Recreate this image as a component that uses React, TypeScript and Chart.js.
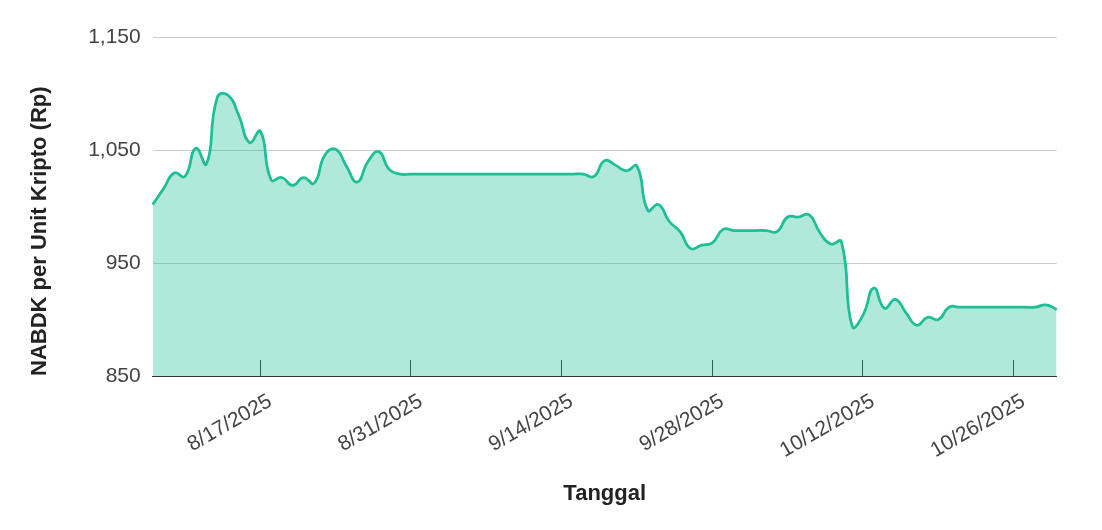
import { useEffect, useRef } from "react";
import { Chart, registerables } from "chart.js";

Chart.register(...registerables);

// Daily NAV values, 8/7/2025 .. 10/30/2025
const navValues: number[] = [
  1002, 1016, 1030, 1027, 1052, 1038, 1097, 1099, 1081, 1057,
  1067, 1024, 1026, 1019, 1026, 1021, 1046, 1051, 1036, 1022,
  1040, 1049, 1033, 1029, 1029, 1029, 1029, 1029, 1029, 1029,
  1029, 1029, 1029, 1029, 1029, 1029, 1029, 1029, 1029, 1029,
  1029, 1027, 1041, 1037, 1032, 1036, 997, 1002, 987, 978,
  963, 966, 968, 980, 979, 979, 979, 979, 978, 991,
  991, 993, 977, 967, 969, 894, 904, 928, 910, 918,
  906, 895, 902, 900, 911, 911, 911, 911, 911, 911,
  911, 911, 911, 913, 909,
];

const startYear = 2025;
const startMonthIndex = 7; // August
const startDay = 7;

const dateLabels: string[] = navValues.map((_, i) => {
  const d = new Date(startYear, startMonthIndex, startDay + i);
  return `${d.getMonth() + 1}/${d.getDate()}/${d.getFullYear()}`;
});

const xTickLabels: string[] = [
  "8/17/2025",
  "8/31/2025",
  "9/14/2025",
  "9/28/2025",
  "10/12/2025",
  "10/26/2025",
];

const yMin = 850;
const yMax = 1150;
const yStep = 100;

const xTitle = "Tanggal";
const yTitle = "NABDK per Unit Kripto (Rp)";

const FONT = '"Liberation Sans", Arial, Helvetica, sans-serif';
const LINE = "rgb(30,190,150)";
const FILL = "rgba(30,190,150,0.35)";

export default function App() {
  const ref = useRef<HTMLCanvasElement | null>(null);

  useEffect(() => {
    if (!ref.current) return;
    const chart = new Chart(ref.current, {
      type: "line",
      data: {
        labels: dateLabels,
        datasets: [
          {
            data: navValues,
            borderColor: LINE,
            backgroundColor: FILL,
            borderWidth: 2.75,
            fill: "start",
            tension: 0.5,
            pointRadius: 0,
            pointHoverRadius: 0,
          },
        ],
      },
      options: {
        responsive: false,
        animation: false,
        events: [],
        layout: { padding: { top: 37.7, right: 45.3, bottom: 0, left: 0 } },
        plugins: {
          legend: { display: false },
          tooltip: { enabled: false },
        },
        scales: {
          x: {
            type: "category",
            offset: false,
            grid: {
              display: true,
              drawOnChartArea: false,
              drawTicks: true,
              tickLength: -16,
              tickColor: "#333",
              tickWidth: 1,
            },
            border: { display: true, color: "#333", width: 1 },
            ticks: {
              autoSkip: false,
              minRotation: 30,
              maxRotation: 30,
              labelOffset: 9.9,
              padding: 28.9,
              color: "#444",
              font: { family: FONT, size: 21 },
            },
            afterBuildTicks: (scale: any) => {
              scale.ticks = scale.ticks.filter((t: any) =>
                xTickLabels.includes(dateLabels[t.value])
              );
            },
            afterFit: (scale: any) => {
              scale.height = 154;
            },
            title: {
              display: true,
              text: xTitle,
              color: "#222",
              font: { family: FONT, size: 22, weight: "bold" },
              padding: { top: 0, bottom: 22.4 },
            },
          },
          y: {
            min: yMin,
            max: yMax,
            ticks: {
              stepSize: yStep,
              padding: 12,
              color: "#444",
              font: { family: FONT, size: 21 },
              callback: (v: any) => Number(v).toLocaleString("en-US"),
            },
            grid: {
              drawTicks: false,
              color: (ctx: any) =>
                ctx.tick && ctx.tick.value === yMin ? "#333" : "#cccccc",
              lineWidth: 1,
            },
            border: { display: false },
            afterFit: (scale: any) => {
              scale.width = 152.7;
            },
            title: {
              display: true,
              text: yTitle,
              align: "start",
              color: "#222",
              font: { family: FONT, size: 22, weight: "bold" },
              padding: { top: 26.3, bottom: 0 },
            },
          },
        },
      } as any,
    });
    return () => chart.destroy();
  }, []);

  return (
    <div style={{ position: "fixed", left: 0, top: 0, width: 1102, height: 530, background: "#fff" }}>
      <canvas ref={ref} width={1102} height={530} style={{ display: "block" }} />
    </div>
  );
}
